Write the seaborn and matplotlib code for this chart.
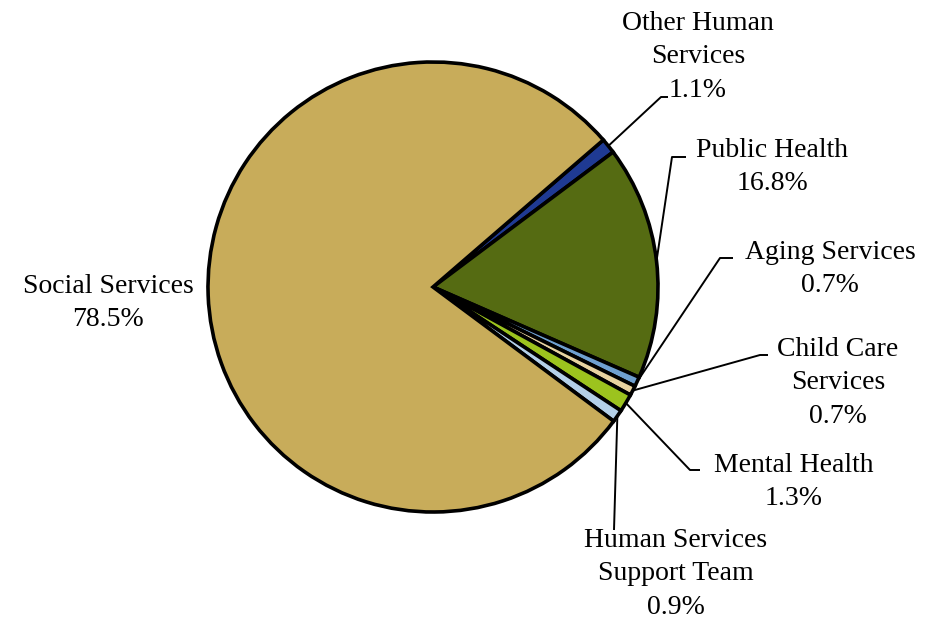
import numpy as np
import matplotlib
matplotlib.use("Agg")
import matplotlib.pyplot as plt
import seaborn as sns

categories = ["Other Human\nServices", "Public Health", "Aging Services",
              "Child Care\nServices", "Mental Health",
              "Human Services\nSupport Team", "Social Services"]
shares = [1.1, 16.8, 0.7, 0.7, 1.3, 0.9, 78.5]
colors = ["#1F3A93", "#556B12", "#6FA0D0", "#E8D3A0", "#9CC31E",
          "#B4D0E8", "#C8AC5A"]

# label centre and leader elbow (pixel layout, pie centre at 433,287, r=225)
label_pos = [(698, 57), (772, 167), (830, 269), (838, 383), (794, 482),
             (676, 574), (108, 303)]
elbows = [[(661, 97), (668, 97)], [(672, 157), (686, 157)],
          [(720, 258), (733, 258)], [(760, 355), (768, 355)],
          [(690, 470), (700, 470)], [(614, 530)], None]

sns.set_theme(style="white")
plt.rcParams["font.family"] = ["Liberation Serif", "DejaVu Serif"]

W, H = 928, 621
CX, CY, R = 433, 287, 225
fig = plt.figure(figsize=(W / 100, H / 100), dpi=100)
ax = fig.add_axes([0, 0, 1, 1])


def px(x, y):
    return ((x - CX) / R, (CY - y) / R)


wedges, _ = ax.pie(shares, colors=colors, startangle=40.8, counterclock=False,
                   radius=1.0, center=(0, 0),
                   wedgeprops=dict(edgecolor="black", linewidth=2.6))

for w, lab, val, pos, elb in zip(wedges, categories, shares, label_pos, elbows):
    tx, ty = px(*pos)
    ax.text(tx, ty, f"{lab}\n{val:.1f}%", ha="center", va="center",
            fontsize=20, color="black", linespacing=1.43)
    if elb is None:
        continue
    mid = np.deg2rad((w.theta1 + w.theta2) / 2)
    pts = [(np.cos(mid), np.sin(mid))] + [px(*p) for p in elb]
    xs, ys = zip(*pts)
    ax.plot(xs, ys, color="black", linewidth=1.4, solid_capstyle="butt")

ax.set_xlim(-CX / R, (W - CX) / R)
ax.set_ylim((CY - H) / R, CY / R)
ax.set_aspect("equal")
ax.axis("off")
fig.savefig("out.png", dpi=100, facecolor="white")
